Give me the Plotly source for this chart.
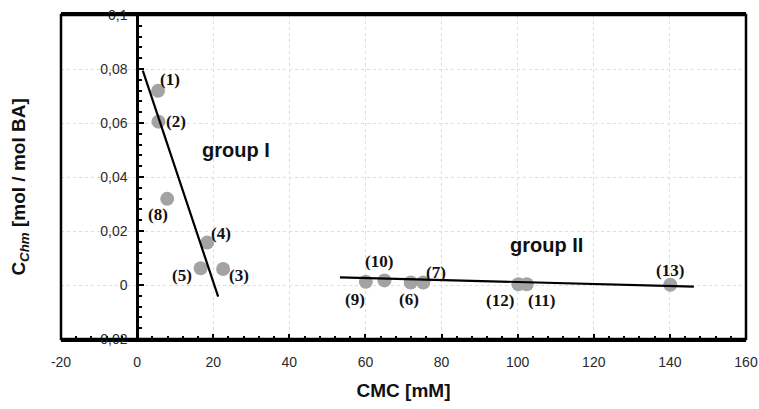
import plotly.graph_objects as go

# ---- data ----
point_labels = ["(1)", "(2)", "(3)", "(4)", "(5)", "(6)", "(7)", "(8)", "(9)", "(10)", "(11)", "(12)", "(13)"]
cmc = [5.5, 5.6, 22.6, 18.4, 16.7, 71.9, 75.2, 7.9, 60.1, 65.0, 102.4, 100.2, 140.1]
c_chm = [0.0719, 0.0605, 0.0059, 0.0157, 0.0062, 0.0009, 0.0009, 0.0319, 0.0012, 0.0017, 0.0003, 0.0003, 0.0001]

fit1_x = [1.5, 21.3]
fit1_y = [0.0794, -0.0043]
fit2_x = [53.3, 146.3]
fit2_y = [0.00285, -0.0006]

group_names = ["group I", "group II"]
group_x = [26.1, 107.7]
group_y = [0.050, 0.0148]

x_ticks = [-20, 0, 20, 40, 60, 80, 100, 120, 140, 160]
y_ticks = [-0.02, 0, 0.02, 0.04, 0.06, 0.08, 0.1]
y_ticktext = ["-0,02", "0", "0,02", "0,04", "0,06", "0,08", "0,1"]

# label offsets in pixels (style, not data)
label_shift = {
    "(1)": (12, 11), "(2)": (18, 0), "(3)": (16, -6), "(4)": (14, 9), "(5)": (-19, -7),
    "(6)": (-2, -17), "(7)": (13, 10), "(8)": (-9, -16), "(9)": (-11, -18),
    "(10)": (-5, 19), "(11)": (15, -16), "(12)": (-18, -16), "(13)": (0, 14),
}

fig = go.Figure()

fig.add_trace(go.Scatter(
    x=cmc, y=c_chm, mode="markers",
    marker=dict(size=14, color="#a3a3a3", line=dict(width=0)),
    showlegend=False, hoverinfo="skip",
))
fig.add_trace(go.Scatter(x=fit1_x, y=fit1_y, mode="lines",
                         line=dict(color="black", width=2.2), showlegend=False))
fig.add_trace(go.Scatter(x=fit2_x, y=fit2_y, mode="lines",
                         line=dict(color="black", width=2.2), showlegend=False))

annotations = []
for lab, xv, yv in zip(point_labels, cmc, c_chm):
    dx, dy = label_shift[lab]
    annotations.append(dict(
        x=xv, y=yv, text=f"<b>{lab}</b>", showarrow=False, xshift=dx, yshift=dy,
        font=dict(family="Liberation Serif, Times New Roman, serif", size=17, color="#111"),
    ))
for name, gx, gy in zip(group_names, group_x, group_y):
    annotations.append(dict(
        x=gx, y=gy, text=f"<b>{name}</b>", showarrow=False,
        font=dict(family="Liberation Sans, Arial, sans-serif", size=20, color="#111"),
    ))

fig.update_layout(
    width=759, height=409,
    margin=dict(l=61, r=13, t=15, b=70, autoexpand=False),
    paper_bgcolor="white", plot_bgcolor="white",
    font=dict(family="Liberation Sans, Arial, sans-serif", size=14, color="#2a2a2a"),
    annotations=annotations,
    xaxis=dict(
        range=[-20, 160], tickvals=x_ticks, ticktext=[str(v) for v in x_ticks],
        automargin=False,
        showgrid=True, gridcolor="#dddddd", griddash="dot", gridwidth=1,
        zeroline=False, showline=True, linecolor="black", linewidth=2.5, mirror=True,
        ticks="inside", ticklen=5, tickwidth=2, tickcolor="black",
        minor=dict(dtick=4, ticks="inside", ticklen=3, tickwidth=1.5, tickcolor="black", showgrid=False),
        ticklabelstandoff=8,
        title=dict(text="<b>CMC [mM]</b>", font=dict(size=19, color="#111"), standoff=16),
    ),
    yaxis=dict(
        range=[-0.02, 0.1], tickvals=y_ticks, ticktext=y_ticktext,
        anchor="free", position=20 / 180, automargin=False,
        showgrid=True, gridcolor="#dddddd", griddash="dot", gridwidth=1,
        zeroline=False, showline=True, linecolor="black", linewidth=2.5,
        ticks="inside", ticklen=5, tickwidth=2, tickcolor="black",
        minor=dict(dtick=0.004, ticks="inside", ticklen=3, tickwidth=1.5, tickcolor="black", showgrid=False),
        ticklabelstandoff=6,
    ),
    shapes=[dict(type="rect", xref="paper", yref="paper", x0=0, x1=1, y0=0, y1=1,
                 line=dict(color="black", width=2.5), layer="above")],
)

# y-axis title placed at left edge (axis itself sits at x=0)
fig.add_annotation(
    xref="paper", yref="paper", x=-0.06, y=0.47, xanchor="center", yanchor="middle",
    text="<b>C<sub><i>Chm</i></sub> [mol / mol BA]</b>", textangle=-90, showarrow=False,
    font=dict(size=19, color="#111"),
)

fig.write_html("out.html", config={"displayModeBar": False},
               post_script="document.body.style.margin='0';")
